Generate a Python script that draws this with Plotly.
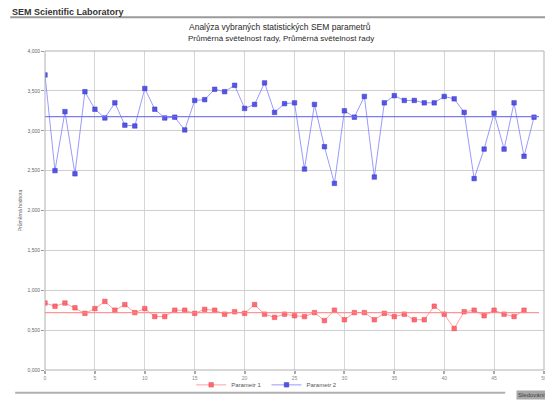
import plotly.graph_objects as go

# ---- data ----
sample_index_1 = list(range(0, 49))
sample_index_2 = list(range(0, 50))
series1_name = "Parametr 1"
series2_name = "Parametr 2"
series1_values = [0.84, 0.80, 0.84, 0.78, 0.71, 0.77, 0.86, 0.75, 0.82, 0.72,
                  0.77, 0.67, 0.67, 0.75, 0.75, 0.71, 0.76, 0.75, 0.70, 0.73,
                  0.71, 0.82, 0.70, 0.66, 0.70, 0.68, 0.67, 0.72, 0.62, 0.75,
                  0.63, 0.72, 0.72, 0.63, 0.71, 0.67, 0.70, 0.63, 0.63, 0.80,
                  0.70, 0.52, 0.73, 0.75, 0.68, 0.75, 0.70, 0.67, 0.75]
series2_values = [3.70, 2.50, 3.24, 2.46, 3.49, 3.27, 3.16, 3.35, 3.07, 3.06,
                  3.53, 3.27, 3.16, 3.17, 3.01, 3.38, 3.39, 3.52, 3.49, 3.57,
                  3.28, 3.33, 3.60, 3.23, 3.34, 3.35, 2.52, 3.33, 2.80, 2.34,
                  3.25, 3.17, 3.43, 2.42, 3.35, 3.44, 3.38, 3.38, 3.35, 3.35,
                  3.43, 3.40, 3.23, 2.40, 2.77, 3.22, 2.77, 3.35, 2.68, 3.17]
x_ticks = list(range(0, 55, 5))
y_ticks = [0.0, 0.5, 1.0, 1.5, 2.0, 2.5, 3.0, 3.5, 4.0]
y_tick_labels = ["0,000", "0,500", "1,000", "1,500", "2,000", "2,500", "3,000", "3,500", "4,000"]

header_text = "SEM Scientific Laboratory"
title_line1 = "Analýza vybraných statistických SEM parametrů"
title_line2 = "Průměrná světelnost řady, Průměrná světelnost řady"
y_title = "Průměrná hodnota"
x_title = "Sledování"

mean1 = sum(series1_values) / len(series1_values)
mean2 = sum(series2_values) / len(series2_values)

# the page body has an 8px default margin: size the figure so that it fills the window
OFF = 8
W, H = 553 - OFF, 405 - OFF
L, R, T, B = 45 - OFF, 6, 51 - OFF, 32
PW, PH = W - L - R, H - T - B


def px(xs):
    # screen x -> paper x
    return (xs - OFF - L) / PW


def py(ys):
    # screen y -> paper y
    return (H - B - (ys - OFF)) / PH


FONT = "Liberation Sans"
fig = go.Figure()

fig.add_trace(go.Scatter(
    x=sample_index_1, y=series1_values, mode="lines+markers", name=series1_name,
    line=dict(color="rgba(255,120,120,0.7)", width=1),
    marker=dict(symbol="square", size=4.5, color="rgba(255,85,95,0.85)",
                line=dict(color="rgba(235,70,80,1)", width=0.5))))
fig.add_trace(go.Scatter(
    x=sample_index_2, y=series2_values, mode="lines+markers", name=series2_name,
    line=dict(color="rgba(120,120,255,0.75)", width=1),
    marker=dict(symbol="square", size=4.5, color="rgba(70,70,225,0.9)",
                line=dict(color="rgba(50,50,205,1)", width=0.5))))

# mean lines drawn from the data
fig.add_trace(go.Scatter(x=[0, 49.5], y=[mean1, mean1], mode="lines", showlegend=False,
                         hoverinfo="skip", line=dict(color="rgba(255,130,130,0.85)", width=1.3)))
fig.add_trace(go.Scatter(x=[0, 49.5], y=[mean2, mean2], mode="lines", showlegend=False,
                         hoverinfo="skip", line=dict(color="rgba(110,110,240,0.9)", width=1.3)))

shapes = [
    dict(type="line", xref="paper", yref="paper", x0=px(10), x1=px(550), y0=py(17), y1=py(17),
         line=dict(color="#9a9a9a", width=2)),
    dict(type="line", xref="paper", yref="paper", x0=px(15), x1=px(508), y0=py(396), y1=py(396),
         line=dict(color="#b0b0b0", width=2)),
    dict(type="rect", xref="paper", yref="paper", x0=0, x1=1, y0=0, y1=1,
         line=dict(color="#b0b0b0", width=1)),
]

annotations = [
    dict(text="<b>" + header_text + "</b>", xref="paper", yref="paper", x=px(10), y=py(12),
         xanchor="left", yanchor="middle", showarrow=False, font=dict(size=9, color="#333333", family=FONT)),
    dict(text=title_line1, xref="paper", yref="paper", x=px(281), y=py(26.5),
         xanchor="center", yanchor="middle", showarrow=False, font=dict(size=8.5, color="#2a2a2a", family=FONT)),
    dict(text=title_line2, xref="paper", yref="paper", x=px(282), y=py(38),
         xanchor="center", yanchor="middle", showarrow=False, font=dict(size=8, color="#2a2a2a", family=FONT)),
    dict(text=x_title, xref="paper", yref="paper", x=px(550), y=py(398),
         xanchor="right", yanchor="middle", showarrow=False, bgcolor="#a8a8a8", borderpad=1,
         font=dict(size=6, color="#444444", family=FONT)),
]

fig.update_layout(
    width=W, height=H,
    margin=dict(l=L, r=R, t=T, b=B, pad=0),
    paper_bgcolor="white", plot_bgcolor="white",
    font=dict(family=FONT, size=6, color="#555555"),
    showlegend=True,
    legend=dict(orientation="h", x=px(268), y=py(388), xanchor="center", yanchor="middle",
                font=dict(size=6, color="#555555"), itemwidth=30, bgcolor="rgba(0,0,0,0)"),
    shapes=shapes, annotations=annotations,
    xaxis=dict(range=[0, 50], tickvals=x_ticks, showgrid=True, gridcolor="#d6d6d6", gridwidth=1,
               zeroline=False, ticks="outside", ticklen=3, tickcolor="#aaaaaa", tickwidth=2,
               ticklabeloverflow="allow", tickfont=dict(size=5, color="#888888"), showline=False),
    yaxis=dict(range=[0, 4], tickvals=y_ticks, ticktext=y_tick_labels, showgrid=True,
               gridcolor="#cfcfcf", gridwidth=1, zeroline=False, ticks="outside", ticklen=3,
               tickcolor="#999999", tickfont=dict(size=5, color="#666666"),
               title=dict(text=y_title, font=dict(size=5, color="#666666"), standoff=4)),
)

fig.write_html("out.html")
